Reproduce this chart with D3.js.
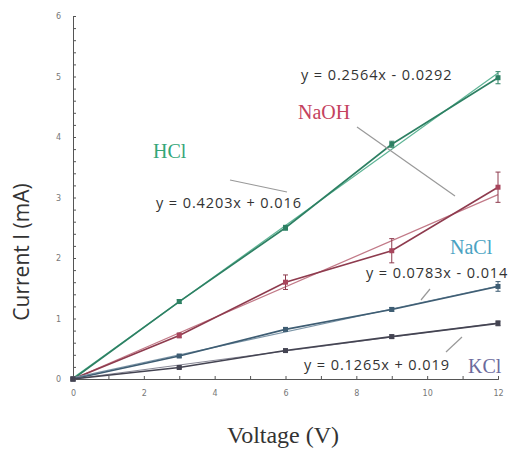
<!DOCTYPE html>
<head>
    <meta charset="utf-8">
    <style>
        body { margin: 0; background: #fff; }
        svg { display: block; }
        .axis text { font-family: 'DejaVu Sans', sans-serif; font-size: 8px; fill: #777; }
        .axis line, .axis path { stroke: #555; }
        .eq { font-family: 'Open Sans', sans-serif; font-size: 14.5px; letter-spacing: 0.9px; fill: #333; }
        .name { font-family: 'Liberation Serif', serif; font-size: 20px; }
    </style>
</head>
<body>
    <div id="chart"></div>
    <script src="https://d3js.org/d3.v7.min.js"></script>
    <script>
        // readings
        var volts = [0, 3, 6, 9, 12];
        var hcl  = [0, 1.28, 2.5, 3.88, 4.98];
        var naoh = [0, 0.72, 1.6, 2.12, 3.17];
        var nacl = [0, 0.38, 0.82, 1.15, 1.53];
        var kcl  = [0, 0.19, 0.47, 0.70, 0.92];
        // error bar half widths
        var hclErr  = [0, 0.03, 0.04, 0.05, 0.1];
        var naohErr = [0, 0.04, 0.12, 0.2, 0.25];
        var naclErr = [0, 0.02, 0.03, 0.03, 0.08];
        var kclErr  = [0, 0.02, 0.02, 0.03, 0.04];
        // trendline slope / intercept
        var slopes = [0.4203, 0.2564, 0.1265, 0.0783];
        var intercepts = [0.016, -0.0292, 0.019, -0.014];
        var names = ["HCl", "NaOH", "NaCl", "KCl"];
        var xTicks = [0, 2, 4, 6, 8, 10, 12];
        var yTicks = [0, 1, 2, 3, 4, 5, 6];

        var lineCol = ["#2d8063", "#8e3b4e", "#3e5d73", "#444452"];
        var fitCol  = ["#5fb596", "#c27a88", "#7d96a8", "#8a8a98"];
        var textCol = ["#34a678", "#c4425e", "#4aa2c2", "#6b6a9c"];

        var W = 508, H = 454;
        var margin = {top: 16, right: 10, bottom: 75, left: 73};

        var svg = d3.select("#chart").append("svg")
            .attr("width", W).attr("height", H);

        var x = d3.scaleLinear().domain([0, 12]).range([margin.left, 498]);
        var y = d3.scaleLinear().domain([0, 6]).range([379, margin.top]);

        // axes
        svg.append("g").attr("class", "axis")
            .attr("transform", "translate(" + x(0) + ",0)")
            .call(d3.axisRight(y).tickValues(d3.range(0, 6.01, 0.2)).tickSize(3).tickFormat(""));
        svg.append("g").attr("class", "axis")
            .attr("transform", "translate(" + x(0) + ",0)")
            .call(d3.axisLeft(y).tickValues(yTicks).tickSize(0).tickPadding(12).tickFormat(d3.format("d")));
        svg.append("g").attr("class", "axis")
            .attr("transform", "translate(0," + y(0) + ")")
            .call(d3.axisTop(x).tickValues(d3.range(0, 12.01, 1)).tickSize(3).tickFormat(""));
        svg.append("g").attr("class", "axis")
            .attr("transform", "translate(0," + y(0) + ")")
            .call(d3.axisBottom(x).tickValues(xTicks).tickSize(0).tickPadding(11).tickFormat(d3.format("d")));

        svg.append("text")
            .attr("transform", "translate(29,252) rotate(-90)")
            .attr("text-anchor", "middle")
            .style("font-family", "'Open Sans', sans-serif").style("font-size", "21px").style("fill", "#333")
            .text("Current I (mA)");
        svg.append("text")
            .attr("x", 283).attr("y", 443)
            .attr("text-anchor", "middle")
            .style("font-family", "'Liberation Serif', serif").style("font-size", "24px").style("fill", "#333")
            .text("Voltage (V)");

        var series = [hcl, naoh, nacl, kcl];
        var errs = [hclErr, naohErr, naclErr, kclErr];
        var line = d3.line().x(function(d) { return x(d[0]); }).y(function(d) { return y(d[1]); });

        series.forEach(function(vals, i) {
            var pts = volts.map(function(v, j) { return [v, vals[j]]; });
            var fit = [0, 12].map(function(v) { return [v, Math.max(0, slopes[i] * v + intercepts[i])]; });

            svg.append("path").datum(fit).attr("d", line)
                .attr("fill", "none").attr("stroke", fitCol[i]).attr("stroke-width", 1.2);
            svg.append("path").datum(pts).attr("d", line)
                .attr("fill", "none").attr("stroke", lineCol[i]).attr("stroke-width", 1.6);

            // error bars
            var eb = svg.append("g");
            pts.forEach(function(p, j) {
                var e = errs[i][j];
                if (!e) return;
                eb.append("line").attr("x1", x(p[0])).attr("x2", x(p[0]))
                    .attr("y1", y(p[1] - e)).attr("y2", y(p[1] + e))
                    .attr("stroke", lineCol[i]).attr("stroke-width", 1);
                [p[1] - e, p[1] + e].forEach(function(v) {
                    eb.append("line").attr("x1", x(p[0]) - 2.5).attr("x2", x(p[0]) + 2.5)
                        .attr("y1", y(v)).attr("y2", y(v))
                        .attr("stroke", lineCol[i]).attr("stroke-width", 1);
                });
            });

            // markers
            svg.append("g").selectAll("rect").data(pts).enter().append("rect")
                .attr("x", function(d) { return x(d[0]) - 2.5; })
                .attr("y", function(d) { return y(d[1]) - 2.5; })
                .attr("width", 5).attr("height", 5)
                .attr("fill", i == 1 ? "#a8455c" : lineCol[i]);
        });

        // labels and equations
        var ann = [
            {t: names[0], x: 153, y: 158, c: textCol[0], cls: "name"},
            {t: names[1], x: 298, y: 119, c: textCol[1], cls: "name"},
            {t: names[2], x: 450, y: 254, c: textCol[2], cls: "name"},
            {t: names[3], x: 468, y: 373, c: textCol[3], cls: "name"},
            {t: "y = 0.4203x + 0.016", x: 156, y: 208, cls: "eq"},
            {t: "y = 0.2564x - 0.0292", x: 301, y: 80, cls: "eq"},
            {t: "y = 0.0783x - 0.014", x: 366, y: 278, cls: "eq"},
            {t: "y = 0.1265x + 0.019", x: 304, y: 370, cls: "eq"}
        ];
        ann.forEach(function(a) {
            var t = svg.append("text").attr("class", a.cls)
                .attr("x", a.x).attr("y", a.y).text(a.t);
            if (a.c) t.style("fill", a.c);
        });

        // pointer lines
        var pointers = [[230, 180, 287, 192], [357, 127, 455, 196], [430, 289, 421, 300], [446, 352, 462, 337]];
        pointers.forEach(function(p) {
            svg.append("line").attr("x1", p[0]).attr("y1", p[1]).attr("x2", p[2]).attr("y2", p[3])
                .attr("stroke", "#999").attr("stroke-width", 1.2);
        });
    </script>
</body>
